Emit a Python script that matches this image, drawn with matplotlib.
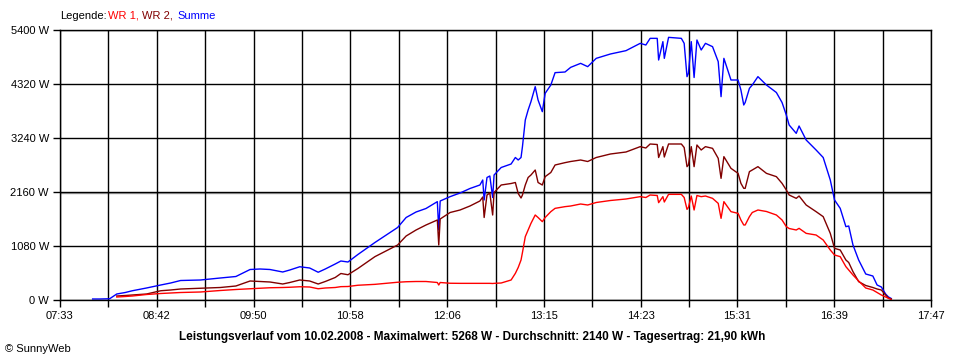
import numpy as np
import matplotlib.pyplot as plt

plt.rcParams["font.family"] = ["Liberation Sans", "DejaVu Sans"]

# ---------- data (10.02.2008) ----------
times = [
    "07:56", "08:01", "08:08", "08:13", "08:19", "08:24", "08:34", "08:44", "08:51", "08:58",
    "09:12", "09:26", "09:37", "09:47", "09:54", "10:01", "10:10", "10:15", "10:22", "10:29",
    "10:35", "10:40", "10:47", "10:51", "10:56", "11:03", "11:15", "11:31", "11:37", "11:44",
    "11:51", "11:59", "12:00", "12:01", "12:08", "12:15", "12:22", "12:29", "12:31", "12:32",
    "12:34", "12:36", "12:38", "12:39", "12:44", "12:51", "12:54", "12:56", "12:58", "12:59",
    "13:01", "13:03", "13:05", "13:08", "13:10", "13:13", "13:15", "13:19", "13:22", "13:29",
    "13:33", "13:40", "13:45", "13:51", "14:01", "14:12", "14:22", "14:26", "14:29", "14:34",
    "14:35", "14:38", "14:39", "14:42", "14:51", "14:53", "14:55", "14:56", "14:58", "15:00",
    "15:02", "15:05", "15:08", "15:13", "15:17", "15:19", "15:21", "15:26", "15:31", "15:33",
    "15:35", "15:36", "15:39", "15:41", "15:45", "15:51", "15:58", "16:02", "16:05", "16:07",
    "16:12", "16:14", "16:19", "16:26", "16:31", "16:36", "16:39", "16:43", "16:47", "16:49",
    "16:52", "16:56", "17:01", "17:06", "17:09", "17:12", "17:15", "17:17", "17:19",
]
wr1 = [
    None, None, None, 60, 70, 80, 110, 130, 140, 150,
    160, 190, 210, 225, 235, 245, 250, 255, 265, 260,
    225, 240, 250, 267, 270, 295, 313, 355, 365, 370,
    370, 350, 300, 350, 335, 333, 333, 333, 333, 333,
    333, 333, 330, 333, 340, 400, 533, 650, 800, 950,
    1267, 1400, 1533, 1700, 1650, 1567, 1650, 1767, 1833, 1867,
    1880, 1920, 1900, 1950, 1990, 2020, 2067, 2050, 2100, 2090,
    1947, 2067, 1960, 2113, 2113, 2050, 1813, 1850, 2080, 1800,
    2090, 2067, 2080, 2033, 1933, 1633, 1967, 1767, 1733, 1600,
    1500, 1500, 1667, 1750, 1800, 1770, 1700, 1600, 1467, 1430,
    1400, 1433, 1333, 1300, 1200, 1000, 900, 867, 667, 600,
    500, 380, 240, 200, 150, 100, 60, 33, 10,
]
wr2 = [
    None, None, None, 80, 90, 100, 120, 185, 200, 220,
    235, 250, 280, 380, 370, 360, 320, 350, 400, 380,
    320, 370, 450, 530, 505, 630, 867, 1100, 1280, 1400,
    1500, 1600, 1100, 1620, 1750, 1800, 1880, 1980, 2060, 1650,
    2100, 2140, 1700, 2150, 2300, 2330, 2350, 2130, 2040, 2100,
    2300, 2450, 2500, 2600, 2350, 2300, 2467, 2550, 2700, 2747,
    2770, 2800, 2770, 2850, 2920, 2960, 3067, 3040, 3120, 3110,
    2850, 3067, 2860, 3120, 3120, 3050, 2667, 2700, 3067, 2667,
    3100, 3000, 3067, 3033, 2833, 2433, 2867, 2633, 2533, 2333,
    2233, 2233, 2567, 2600, 2667, 2533, 2467, 2333, 2200, 2100,
    2033, 2080, 1900, 1767, 1667, 1333, 1033, 1000, 800, 750,
    567, 367, 290, 250, 220, 200, 100, 40, 20,
]
summe = [
    20, 20, 25, 120, 150, 185, 240, 300, 340, 390,
    400, 440, 470, 610, 620, 610, 560, 600, 665, 640,
    555, 620, 720, 780, 760, 910, 1150, 1450, 1650, 1760,
    1830, 1967, 1400, 1980, 2067, 2140, 2230, 2300, 2400, 2000,
    2450, 2480, 2050, 2500, 2650, 2720, 2850, 2800, 2850, 3067,
    3600, 3800, 3967, 4267, 4000, 3767, 4133, 4300, 4547, 4560,
    4653, 4733, 4667, 4833, 4920, 4987, 5133, 5100, 5233, 5233,
    4800, 5167, 4833, 5253, 5233, 5133, 4467, 4533, 5167, 4450,
    5200, 5000, 5133, 5067, 4767, 4067, 4833, 4400, 4400, 4200,
    3900, 3950, 4233, 4300, 4467, 4300, 4150, 3950, 3700, 3500,
    3333, 3480, 3200, 3000, 2850, 2400, 2000, 1833, 1467, 1480,
    1100, 800, 520, 480, 300, 260, 120, 60, 30,
]
y_ticks = [0, 1080, 2160, 3240, 4320, 5400]
x_labels = ["07:33", "08:42", "09:50", "10:58", "12:06",
            "13:15", "14:23", "15:31", "16:39", "17:47"]

title = ("Leistungsverlauf vom 10.02.2008 - Maximalwert: 5268 W - "
         "Durchschnitt: 2140 W - Tagesertrag: 21,90 kWh")


def to_min(s):
    h, m = s.split(":")
    return int(h) * 60 + int(m)


t = np.array([to_min(s) for s in times])
wr1 = np.array(wr1, dtype=float)
wr2 = np.array(wr2, dtype=float)
summe = np.array(summe, dtype=float)

t0, t1 = to_min(x_labels[0]), to_min(x_labels[-1])

# ---------- figure ----------
fig = plt.figure(figsize=(9.6, 3.6), dpi=100)
ax = fig.add_axes([60 / 960, 60 / 360, 871 / 960, 270 / 360])

ax.plot(t, summe, color="#0000ff", lw=1.0)
ax.plot(t, wr2, color="#800000", lw=1.0)
ax.plot(t, wr1, color="#ff0000", lw=1.0)

ax.set_xlim(t0, t1)
ax.set_ylim(0, 5400)

xt = np.linspace(t0, t1, 19)
ax.set_xticks(xt)
ax.set_xticklabels([x_labels[i // 2] if i % 2 == 0 else "" for i in range(19)])
ax.set_yticks(y_ticks)
ax.set_yticklabels([f"{v} W" for v in y_ticks])

ax.grid(True, color="black", lw=1)
ax.axhline(2160 - 20, color="#a0a0a0", lw=1, zorder=1.5)
for s in ax.spines.values():
    s.set_color("black")
    s.set_linewidth(1)
ax.tick_params(direction="out", length=5, width=1, color="black",
               labelsize=8, pad=3)

# legend line at the top
fig.text(60 / 960, 1 - 16 / 360, "Legende:", fontsize=8, va="center")
fig.text(108 / 960, 1 - 16 / 360, "WR 1,", fontsize=8, va="center", color="#ff0000")
fig.text(142 / 960, 1 - 16 / 360, "WR 2,", fontsize=8, va="center", color="#800000")
fig.text(177 / 960, 1 - 16 / 360, "Summe", fontsize=8, va="center", color="#0000ff")

fig.text(472 / 960, 1 - 337 / 360, title, fontsize=8.5, fontweight="bold",
         ha="center", va="center")
fig.text(5 / 960, 1 - 349 / 360, "© SunnyWeb", fontsize=8, va="center")

fig.savefig("out.png", dpi=100)
plt.close(fig)
